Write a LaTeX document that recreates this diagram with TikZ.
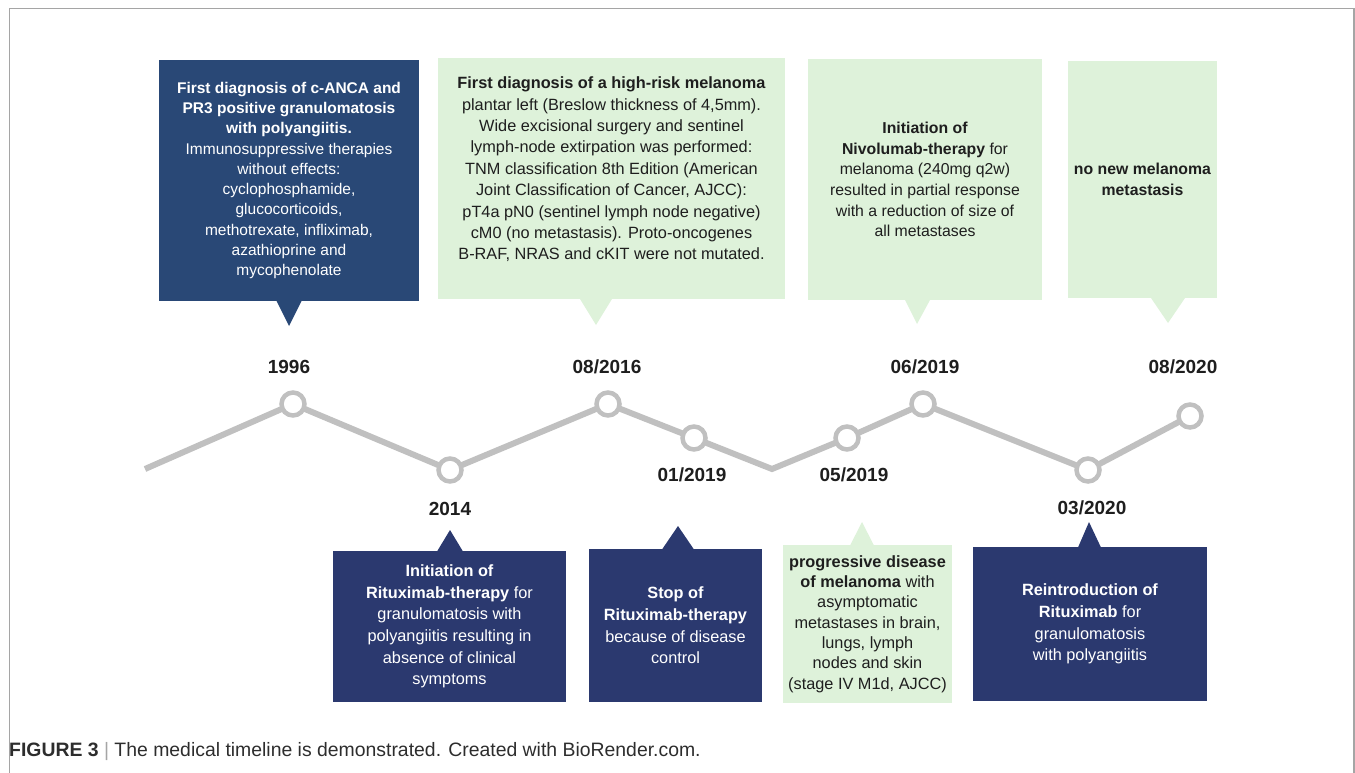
\documentclass[tikz,border=0pt]{standalone}
\usepackage{fontspec}
\setmainfont{Liberation Sans}
\usetikzlibrary{backgrounds}
\definecolor{navyA}{RGB}{41,72,118}
\definecolor{navyB}{RGB}{43,57,111}
\definecolor{mint}{RGB}{222,242,218}
\definecolor{tlgray}{RGB}{192,192,192}
\definecolor{frameg}{RGB}{165,165,165}
\definecolor{ink}{RGB}{30,30,30}
\definecolor{capink}{RGB}{45,45,45}
\begin{document}
\begin{tikzpicture}[x=1pt,y=-1pt,
  box/.style={rectangle, inner sep=0pt, align=center, draw=none},
  darkA/.style={box, fill=navyA, text=white},
  darkB/.style={box, fill=navyB, text=white},
  lightbox/.style={box, fill=mint, text=ink},
  dot/.style={circle, draw=tlgray, line width=4.5pt, fill=white, minimum size=23pt, inner sep=0pt},
  datelbl/.style={font=\fontsize{19}{22}\selectfont\bfseries, text=ink, inner sep=0pt},
  tline/.style={draw=tlgray, line width=6pt, line join=miter},
  fA/.style={font=\fontsize{15.5}{20.3}\selectfont},
  fB/.style={font=\fontsize{16.3}{21.4}\selectfont},
  fC/.style={font=\fontsize{15.8}{20.6}\selectfont},
  fD/.style={font=\fontsize{16.3}{21.7}\selectfont},
  fE/.style={font=\fontsize{16.3}{20.3}\selectfont},
]
\useasboundingbox (0,0) rectangle (1355,773);
% frame
\draw[frameg, line width=1.5pt] (9.3,773) -- (9.3,8.7) -- (1354,8.7) -- (1354,773);

% upper boxes
\node[darkA, fA, minimum width=260pt, minimum height=241pt] (b1) at (289,180.5)
 {\textbf{First diagnosis of c-ANCA and}\\
  \textbf{PR3 positive granulomatosis}\\
  \textbf{with polyangiitis.}\\
  Immunosuppressive therapies\\
  without effects:\\
  cyclophosphamide,\\
  glucocorticoids,\\
  methotrexate, infliximab,\\
  azathioprine and\\
  mycophenolate};
\fill[navyA] (276.5,301) -- (289,326) -- (301.5,301) -- cycle;

\node[lightbox, minimum width=347pt, minimum height=241pt] (b2) at (611.5,178.5) {};
\node[box, fB, text=ink] (t2) at (611.5,169.5)
 {\textbf{First diagnosis of a high-risk melanoma}\\
  plantar left (Breslow thickness of 4,5mm).\\
  Wide excisional surgery and sentinel\\
  lymph-node extirpation was performed:\\
  TNM classification 8th Edition (American\\
  Joint Classification of Cancer, AJCC):\\
  pT4a pN0 (sentinel lymph node negative)\\
  cM0 (no metastasis). Proto-oncogenes\\
  B-RAF, NRAS and cKIT were not mutated.};
\fill[mint] (580,299) -- (596,325) -- (612,299) -- cycle;

\node[lightbox, fC, minimum width=234pt, minimum height=241pt] (b3) at (925,179.5)
 {\textbf{Initiation of}\\
  \textbf{Nivolumab-therapy} for\\
  melanoma (240mg q2w)\\
  resulted in partial response\\
  with a reduction of size of\\
  all metastases};
\fill[mint] (905,300) -- (917,324) -- (930,300) -- cycle;

\node[lightbox, fC, minimum width=149pt, minimum height=237pt] (b4) at (1142.5,179.5)
 {\textbf{no new melanoma}\\
  \textbf{metastasis}};
\fill[mint] (1151,298) -- (1168,323) -- (1185,298) -- cycle;

% timeline
\coordinate (t0) at (145,469);
\coordinate (tdip) at (772,469);
\node[dot] (d1) at (293,404) {};
\node[dot] (d2) at (450,470) {};
\node[dot] (d3) at (608,404) {};
\node[dot] (d4) at (694,438) {};
\node[dot] (d5) at (847,438) {};
\node[dot] (d6) at (923,404) {};
\node[dot] (d7) at (1088,470) {};
\node[dot] (d8) at (1190,416) {};
\begin{pgfonlayer}{background}
\draw[tline] (t0) -- (d1.center) -- (d2.center) -- (d3.center) -- (d4.center) -- (tdip) -- (d5.center) -- (d6.center) -- (d7.center) -- (d8.center);
\end{pgfonlayer}

% dates
\node[datelbl] (y1) at (289,367) {1996};
\node[datelbl] (y2) at (450,509) {2014};
\node[datelbl] (y3) at (607,367) {08/2016};
\node[datelbl] (y4) at (692,475) {01/2019};
\node[datelbl] (y5) at (854,475) {05/2019};
\node[datelbl] (y6) at (925,367) {06/2019};
\node[datelbl] (y7) at (1092,508) {03/2020};
\node[datelbl] (y8) at (1183,367) {08/2020};

% lower boxes
\node[darkB, fD, minimum width=233pt, minimum height=151pt] (l1) at (449.5,626.5)
 {\textbf{Initiation of}\\
  \textbf{Rituximab-therapy} for\\
  granulomatosis with\\
  polyangiitis resulting in\\
  absence of clinical\\
  symptoms};
\fill[navyB] (437,551.5) -- (450,530) -- (463,551.5) -- cycle;

\node[darkB, fD, minimum width=173pt, minimum height=153pt] (l2) at (675.5,625.5)
 {\textbf{Stop of}\\
  \textbf{Rituximab-therapy}\\
  because of disease\\
  control};
\fill[navyB] (662,549.5) -- (678,526) -- (694,549.5) -- cycle;

\node[lightbox, fE, minimum width=169pt, minimum height=158pt] (l3) at (867.5,624)
 {\textbf{progressive disease}\\
  \textbf{of melanoma} with\\
  asymptomatic\\
  metastases in brain,\\
  lungs, lymph\\
  nodes and skin\\
  (stage IV M1d, AJCC)};
\fill[mint] (850,545.5) -- (862,522) -- (874,545.5) -- cycle;

\node[darkB, fD, minimum width=234pt, minimum height=154pt] (l4) at (1090,624)
 {\textbf{Reintroduction of}\\
  \textbf{Rituximab} for\\
  granulomatosis\\
  with polyangiitis};
\fill[navyB] (1078,547.5) -- (1089,522) -- (1101,547.5) -- cycle;

% caption
\node[anchor=west, inner sep=0pt, text=capink, font=\fontsize{19.4}{23}\selectfont] (cap) at (9,752)
 {\textbf{FIGURE 3} {\color{frameg}|} The medical timeline is demonstrated. Created with BioRender.com.};
\end{tikzpicture}
\end{document}
